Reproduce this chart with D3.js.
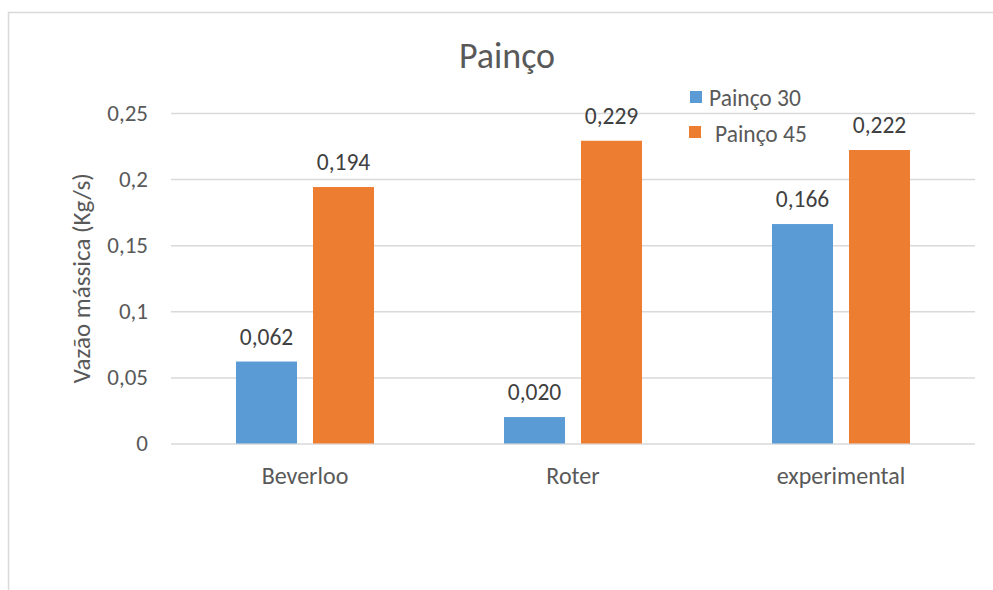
<!DOCTYPE html>
<html>
<head>
<meta charset="utf-8">
<script src="https://cdn.jsdelivr.net/npm/d3@7"></script>
<style>
  html, body { margin: 0; padding: 0; background: #fff; }
  svg { display: block; font-family: Calibri, Carlito, Lato, sans-serif; }
</style>
</head>
<body>
<svg id="chart" width="993" height="590"></svg>
<script>
// Mass flow rate of millet (painço) for two settings, by method
const categories = ["Beverloo", "Roter", "experimental"];
const seriesNames = ["Painço 30", "Painço 45"];
const painco30 = [0.062, 0.020, 0.166];
const painco45 = [0.194, 0.229, 0.222];
const yTicks = [0, 0.05, 0.1, 0.15, 0.2, 0.25];
const yTickLabels = ["0", "0,05", "0,1", "0,15", "0,2", "0,25"];
const seriesColors = ["#5B9BD5", "#ED7D31"];

const rows = categories.map((c, i) => ({ category: c, values: [painco30[i], painco45[i]] }));

const svg = d3.select("#chart");
const fontStack = "Calibri, Carlito, Lato, sans-serif";
const textColor = "#595959";
const gridColor = "#D9D9D9";

// chart frame
svg.append("rect")
  .attr("x", 8.5).attr("y", 12.5)
  .attr("width", 1000).attr("height", 600)
  .attr("fill", "#fff").attr("stroke", gridColor).attr("stroke-width", 1.5);

const plot = { left: 171, right: 975, top: 113, bottom: 443.5 };

const y = d3.scaleLinear().domain([0, 0.25]).range([plot.bottom, plot.top]);
const x0 = d3.scaleBand().domain(categories).range([plot.left, plot.right])
  .paddingInner(0.485).paddingOuter(0.2425);
const x1 = d3.scaleBand().domain(seriesNames).range([0, x0.bandwidth()]).paddingInner(0.2078);

// horizontal gridlines and value labels on the y axis
const yAxis = d3.axisLeft(y).tickValues(yTicks)
  .tickFormat((d, i) => yTickLabels[i])
  .tickSize(-(plot.right - plot.left)).tickPadding(23);
const gy = svg.append("g").attr("transform", `translate(${plot.left},0)`).call(yAxis);
gy.select(".domain").remove();
gy.selectAll(".tick line").attr("stroke", gridColor).attr("stroke-width", 1.5);
gy.selectAll(".tick text").attr("fill", textColor).attr("font-size", 23)
  .attr("font-family", fontStack);

// category axis labels
const xAxis = d3.axisBottom(x0).tickSize(0).tickPadding(23);
const gx = svg.append("g").attr("transform", `translate(0,${plot.bottom})`).call(xAxis);
gx.select(".domain").remove();
gx.selectAll(".tick text").attr("fill", textColor).attr("font-size", 24)
  .attr("font-family", fontStack);

// bars and value labels
const groups = svg.append("g").selectAll("g").data(rows).join("g")
  .attr("transform", d => `translate(${x0(d.category)},0)`);

const fmt = v => d3.format(".3f")(v).replace(".", ",");

groups.selectAll("rect")
  .data(d => d.values.map((v, i) => ({ key: seriesNames[i], value: v, i })))
  .join("rect")
  .attr("x", d => x1(d.key))
  .attr("width", x1.bandwidth())
  .attr("y", d => y(d.value))
  .attr("height", d => y(0) - y(d.value))
  .attr("fill", d => seriesColors[d.i]);

groups.selectAll("text.val")
  .data(d => d.values.map((v, i) => ({ key: seriesNames[i], value: v })))
  .join("text")
  .attr("class", "val")
  .attr("x", d => x1(d.key) + x1.bandwidth() / 2)
  .attr("y", d => y(d.value) - 17)
  .attr("text-anchor", "middle")
  .attr("fill", "#404040")
  .attr("font-size", 23.5)
  .text(d => fmt(d.value));

// title
svg.append("text")
  .attr("x", 507).attr("y", 68)
  .attr("text-anchor", "middle")
  .attr("fill", textColor)
  .attr("font-size", 36)
  .text("Painço");

// y axis title
svg.append("text")
  .attr("transform", `translate(90,${(plot.top + plot.bottom) / 2}) rotate(-90)`)
  .attr("text-anchor", "middle")
  .attr("fill", textColor)
  .attr("font-size", 25)
  .text("Vazão mássica (Kg/s)");

// legend
const legendPos = [{ sx: 690, sy: 91, tx: 709, ty: 106 }, { sx: 689, sy: 126, tx: 715, ty: 142 }];
const legend = svg.append("g").selectAll("g").data(seriesNames).join("g");
legend.append("rect")
  .attr("x", (d, i) => legendPos[i].sx).attr("y", (d, i) => legendPos[i].sy)
  .attr("width", 12).attr("height", 12)
  .attr("fill", (d, i) => seriesColors[i]);
legend.append("text")
  .attr("x", (d, i) => legendPos[i].tx).attr("y", (d, i) => legendPos[i].ty)
  .attr("fill", textColor)
  .attr("font-size", 23.5)
  .text(d => d);
</script>
</body>
</html>
